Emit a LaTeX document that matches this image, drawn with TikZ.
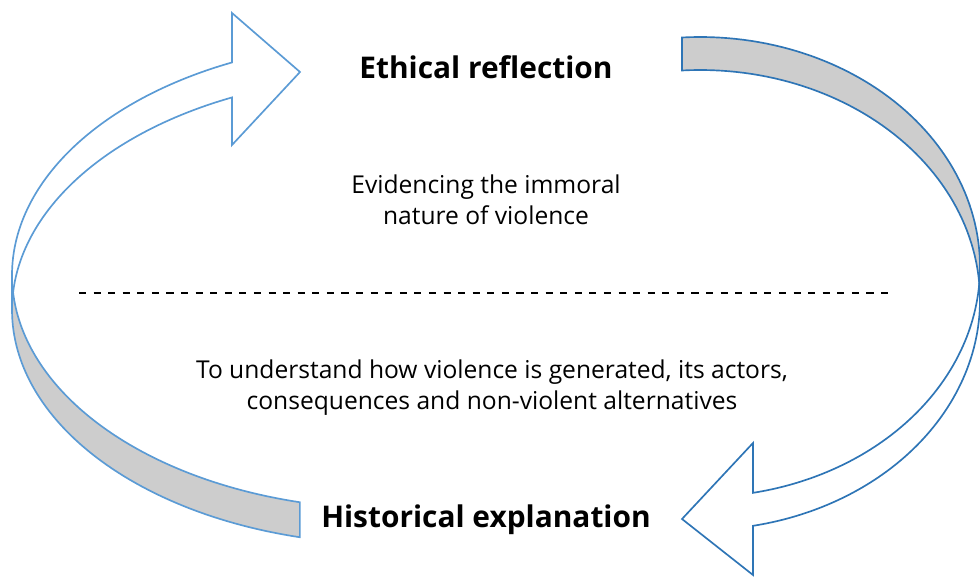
\documentclass[tikz,border=0pt]{standalone}
\usepackage{fontspec}
\setmainfont{Open Sans}
\definecolor{lblue}{HTML}{5B9BD5}
\definecolor{dblue}{HTML}{2E75B6}
\definecolor{backgrey}{HTML}{CDCDCD}
\begin{document}
\begin{tikzpicture}[x=0.02cm,y=-0.02cm,
  band/.style={line width=0.95pt, line join=miter},
  heading/.style={font=\bfseries\fontsize{17}{20}\selectfont, anchor=base, inner sep=0pt},
  body/.style={font=\fontsize{14}{17}\selectfont, anchor=base, inner sep=0pt},
  divider/.style={line width=0.9pt, dash pattern=on 4pt off 4.3pt}]
\useasboundingbox (0,0) rectangle (980,577);

% left arrow: back part (grey)
\filldraw[band, draw=lblue, fill=backgrey]
  plot[domain=180:103.8, samples=60] ({390+378*cos(\x)},{310+234*sin(\x)})
  -- plot[domain=103.8:180, samples=60] ({390+378*cos(\x)},{275+234*sin(\x)})
  -- cycle;
% left arrow: front part (white, with head)
\filldraw[band, draw=lblue, fill=white]
  plot[domain=180:245.3, samples=60] ({390+378*cos(\x)},{275+234*sin(\x)})
  -- (232,13) -- (300,72) -- (232,145)
  -- plot[domain=245.3:180, samples=60] ({390+378*cos(\x)},{310+234*sin(\x)})
  -- cycle;

% right arrow: back part (grey)
\filldraw[band, draw=dblue, fill=backgrey]
  plot[domain=0:-93.7, samples=60] ({700+280*cos(\x)},{267+230*sin(\x)})
  -- plot[domain=-93.7:0, samples=60] ({700+280*cos(\x)},{300+230*sin(\x)})
  -- cycle;
% right arrow: front part (white, with head)
\filldraw[band, draw=dblue, fill=white]
  plot[domain=0:79.1, samples=60] ({700+280*cos(\x)},{300+230*sin(\x)})
  -- (753,575) -- (682,519) -- (753,443)
  -- plot[domain=79.1:0, samples=60] ({700+280*cos(\x)},{267+230*sin(\x)})
  -- cycle;

% texts
\node[heading] (eth) at (486,79) {Ethical reflection};
\node[heading] (his) at (486,527) {Historical explanation};
\node[body] (ev1) at (486,194) {Evidencing the immoral};
\node[body] (ev2) at (486,225) {nature of violence};
\node[body] (un1) at (492,378) {To understand how violence is generated, its actors,};
\node[body] (un2) at (492,409) {consequences and non-violent alternatives};

% dashed divider
\coordinate (dl) at (79,293);
\coordinate (dr) at (893,293);
\draw[divider] (dl) -- (dr);
\end{tikzpicture}
\end{document}
